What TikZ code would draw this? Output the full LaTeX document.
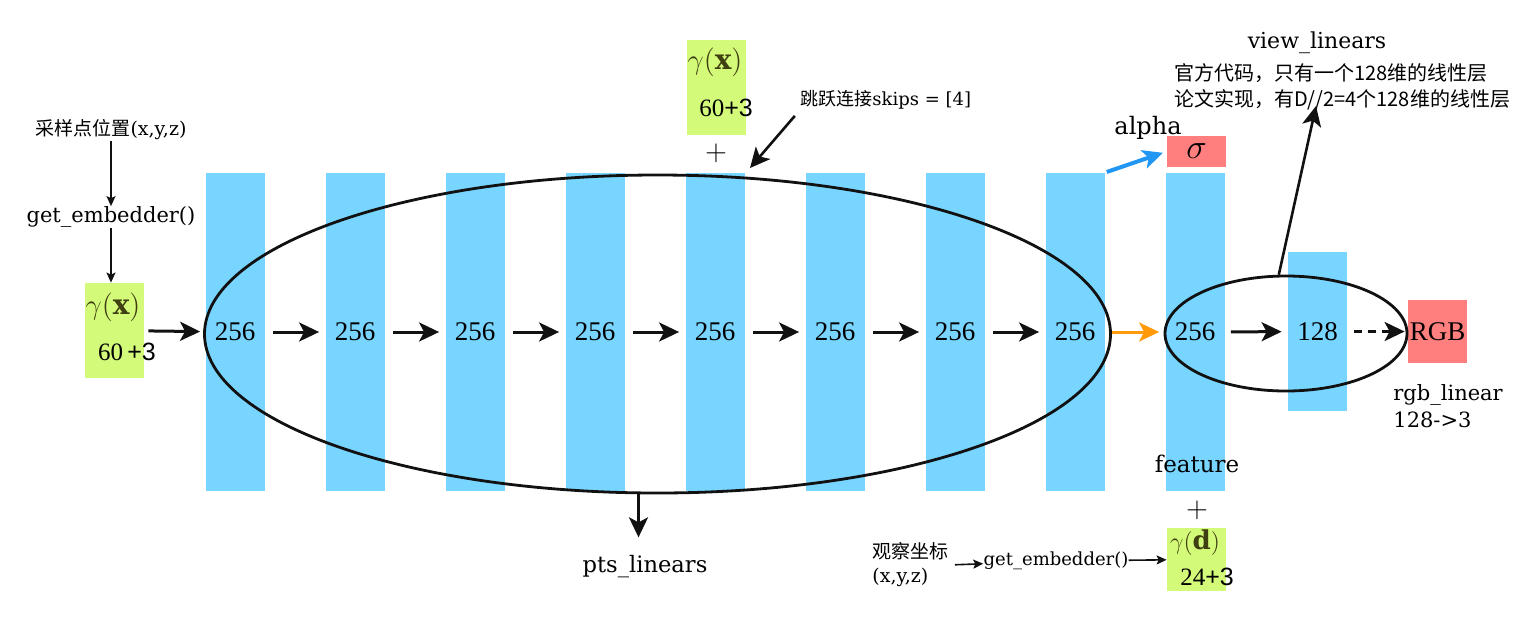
\documentclass[tikz,border=0pt]{standalone}
\usepackage{fontspec}
\setmainfont{DejaVu Serif}
\newfontfamily\cjk{Noto Sans CJK SC}
\newfontfamily\numfont{Liberation Serif}
\newfontfamily\plusfont{Liberation Sans}
\usetikzlibrary{arrows.meta,positioning,shapes.geometric}
\definecolor{layerblue}{HTML}{77D5FF}
\definecolor{embedgreen}{HTML}{D4FA7A}
\definecolor{outred}{HTML}{FF7F7F}
\definecolor{skiporange}{HTML}{FF9A0A}
\definecolor{alphablue}{HTML}{2196F3}
\definecolor{gammaink}{HTML}{3F3F12}
\definecolor{ink}{HTML}{111111}
\tikzset{
  layer/.style={
    fill=layerblue,
    inner sep=0pt,
    minimum width=29.5pt,
    minimum height=159pt,
    font=\numfont\fontsize{13.5}{15}\selectfont
  },
  embedbox/.style={
    fill=embedgreen,
    inner sep=0pt,
    minimum width=29.5pt
  },
  outbox/.style={
    fill=outred,
    inner sep=0pt,
    minimum width=29.5pt
  },
  ring/.style={
    ellipse,
    draw=ink,
    line width=1.4pt,
    inner sep=0pt
  },
  gammatext/.style={
    text=gammaink,
    inner sep=0pt,
    font=\fontsize{14}{16}\selectfont
  },
  dimtext/.style={
    inner sep=0pt,
    font=\numfont\fontsize{12.5}{14}\selectfont
  },
  label/.style={
    inner sep=0pt,
    font=\fontsize{10}{12}\selectfont
  },
  arrow/.style={
    -{Stealth[length=10pt,width=9.5pt,inset=2.5pt]},
    draw=ink,
    line width=1.5pt
  },
  thinarrow/.style={
    -{Stealth[length=5pt,width=4.5pt,inset=1pt]},
    draw=ink,
    line width=0.8pt
  }
}

\begin{document}
\begin{tikzpicture}[x=0.5pt,y=-0.5pt]
  \useasboundingbox (0,0) rectangle (1531,633);

  % layers
  \foreach \i in {1,...,9}
    \node[layer] (b\i) at ({235+120*(\i-1)},332) {256};
  \node[layer, minimum height=79.5pt] (b10) at (1317.5,331.5) {128};
  \node[outbox, minimum height=31.5pt, font=\numfont\fontsize{13.5}{15}\selectfont] (rgb) at (1437.5,331.5) {RGB};
  \node[outbox, minimum height=15.5pt, font=\fontsize{19}{20}\selectfont] (sigma) at (1196.5,151.5) {$\sigma$};

  % input embedding
  \node[label, font=\fontsize{9.5}{12}\selectfont] (ptsin) at (111,130) {{\cjk 采样点位置}(x,y,z)};
  \node[label, font=\fontsize{10.5}{13}\selectfont] (emb1) at (111,217) {get\_embedder()};
  \node[embedbox, minimum height=47.5pt] (gx) at (114.5,330.5) {};
  \node[gammatext] (gxsym) at (113,307) {$\gamma(\mathbf{x})$};
  \node[dimtext] (gxdim) at (127,352) {60\,{\plusfont +3}};
  \draw[thinarrow] (ptsin) -- (emb1);
  \draw[thinarrow] (emb1) -- (emb1 |- gx.north);
  \draw[arrow, shorten <=2pt, shorten >=2.5pt] (gx) -- (b1);

  % skip input
  \node[embedbox, minimum height=47.5pt] (gxs) at (716.5,87.5) {};
  \node[gammatext] (gxssym) at (715,62) {$\gamma(\mathbf{x})$};
  \node[dimtext] (gxsdim) at (726,108) {60{\plusfont +3}};
  \node[inner sep=0pt, font=\fontsize{14}{16}\selectfont] (plus1) at (716,153) {$+$};
  \node[label, anchor=west, font=\fontsize{9}{11}\selectfont] (skip) at (800,100) {{\cjk 跳跃连接}skips = [4]};
  \coordinate (skiptip) at (750,168);
  \draw[arrow, line width=1.3pt, shorten <=4pt] (skip.south west) -- (skiptip);

  % chain of layers
  \foreach \i [evaluate=\i as \j using int(\i+1)] in {1,...,7}
    \draw[arrow, shorten <=4pt, shorten >=3pt] (b\i) -- (b\j);
  \draw[arrow, draw=skiporange, shorten <=3pt, shorten >=3pt] (b8) -- (b9);
  \draw[arrow, shorten <=3pt, shorten >=3pt] (b9) -- (b10);
  \draw[arrow, dash pattern=on 4pt off 3pt, shorten <=3.5pt, shorten >=1.5pt] (b10) -- (rgb);

  % groups
  \node[ring, minimum width=453pt, minimum height=159pt] (ptsring) at (657.5,334) {};
  \node[ring, minimum width=121pt, minimum height=57.5pt] (viewring) at (1286,333.5) {};
  \node[label, font=\fontsize{11.3}{13}\selectfont] (ptslabel) at (645,567) {pts\_linears};
  \draw[arrow] ([xshift=-9.5pt]ptsring.south) -- ([xshift=-9.5pt,yshift=9pt]ptsring.south |- ptslabel.north);

  % alpha
  \node[label, font=\fontsize{12}{14}\selectfont] (alpha) at (1148,128) {alpha};
  \draw[arrow, draw=alphablue, line width=2pt, shorten <=1pt, shorten >=2pt] (b8.north east) -- (sigma.west);

  % view branch
  \node[label, font=\fontsize{11}{13}\selectfont] (viewlabel) at (1317,43) {view\_linears};
  \node[label, anchor=north west, align=left, font=\cjk\fontsize{10}{13.2}\selectfont] (viewnote) at (1174,63)
    {官方代码，只有一个128维的线性层\\论文实现，有D//2=4个128维的线性层};
  \coordinate (viewtip) at (1316,106);
  \draw[arrow, line width=1.3pt] (viewring.97) -- (viewtip);
  \node[label, anchor=west, align=left, font=\fontsize{10.5}{13.5}\selectfont] (rgbnote) at (1393,406)
    {rgb\_linear\\128->3};

  % direction input
  \node[label, font=\fontsize{11.5}{14}\selectfont] (feature) at (1197,464) {feature};
  \node[inner sep=0pt, font=\fontsize{14}{16}\selectfont] (plus2) at (1197,510) {$+$};
  \node[embedbox, minimum height=31.5pt] (gd) at (1196.5,559.5) {};
  \node[gammatext, font=\fontsize{13}{15}\selectfont] (gdsym) at (1195,543) {$\gamma(\mathbf{d})$};
  \node[dimtext] (gddim) at (1207,577) {24{\plusfont +3}};
  \node[label, anchor=west, align=left, font=\fontsize{9.5}{12}\selectfont] (dirin) at (872,565)
    {{\cjk 观察坐标}\\(x,y,z)};
  \node[label, font=\fontsize{9}{11}\selectfont] (emb2) at (1056,561) {get\_embedder()};
  \draw[thinarrow, shorten <=3pt] (dirin.east) -- (emb2);
  \draw[thinarrow] (emb2) -- (gd);
\end{tikzpicture}
\end{document}
